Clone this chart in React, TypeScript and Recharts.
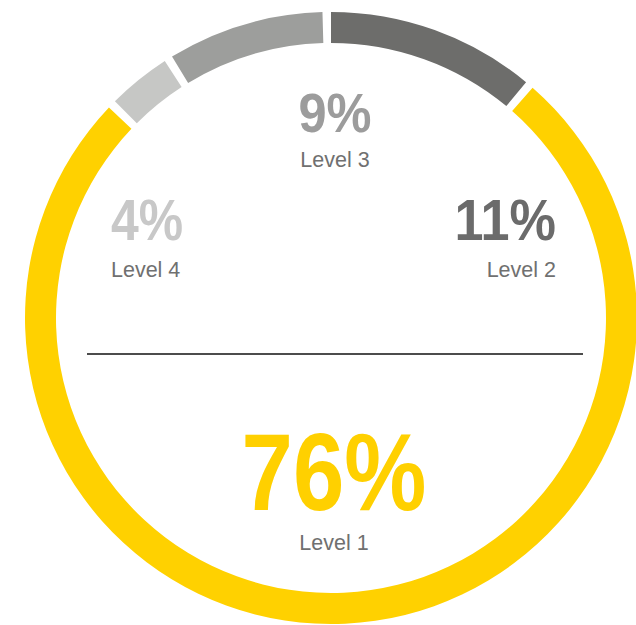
import { PieChart, Pie, Cell } from 'recharts';

// ring order, clockwise from 12 o'clock; arc shares
const levels = ['Level 2', 'Level 1', 'Level 4', 'Level 3'];
const shares = [11.2, 77.0, 3.4, 8.4];
const shareLabels = ['11%', '76%', '4%', '9%'];
const ringColors = ['#6d6d6b', '#ffd100', '#c6c7c5', '#9d9e9c'];
const textColors = ['#6b6b6b', '#ffd000', '#c8c8c8', '#9c9c9c'];

const data = levels.map((name, i) => ({ name, value: shares[i], label: shareLabels[i] }));

// label placement per level (x, baseline of big figure, baseline of name)
const labelPos = [
  { x: 556, y: 240, ny: 277, anchor: 'end', size: 58, sx: 0.9 },
  { x: 334, y: 510, ny: 550, anchor: 'middle', size: 110, sx: 0.84 },
  { x: 111, y: 240, ny: 277, anchor: 'start', size: 58, sx: 0.86 },
  { x: 335, y: 132, ny: 167, anchor: 'middle', size: 55, sx: 0.92 },
];

const W = 636;
const H = 625;

export default function App() {
  return (
    <div style={{ position: 'absolute', left: 0, top: 0, width: W, height: H, background: '#fff', fontFamily: '"Liberation Sans", Arial, sans-serif' }}>
      <PieChart width={W} height={H} margin={{ top: 0, right: 0, bottom: 0, left: 0 }}>
        <Pie
          data={data}
          dataKey="value"
          nameKey="name"
          cx={331}
          cy={318}
          innerRadius={275}
          outerRadius={306}
          startAngle={90}
          endAngle={-270}
          paddingAngle={1.6}
          stroke="none"
          isAnimationActive={false}
        >
          {data.map((d, i) => <Cell key={d.name} fill={ringColors[i]} />)}
        </Pie>
      </PieChart>
      <svg width={W} height={H} style={{ position: 'absolute', left: 0, top: 0, pointerEvents: 'none' }}>
        <line x1={87} x2={583} y1={354} y2={354} stroke="#111" strokeWidth={1.5} />
        {data.map((d, i) => {
          const p = labelPos[i];
          return (
            <g key={d.name}>
              <text
                transform={`translate(${p.x},${p.y}) scale(${p.sx},1)`}
                textAnchor={p.anchor as any}
                fontSize={p.size}
                fontWeight={700}
                fill={textColors[i]}
              >
                {d.label}
              </text>
              <text
                x={p.x}
                y={p.ny}
                textAnchor={p.anchor as any}
                fontSize={21.5}
                fill="#707070"
              >
                {d.name}
              </text>
            </g>
          );
        })}
      </svg>
    </div>
  );
}
